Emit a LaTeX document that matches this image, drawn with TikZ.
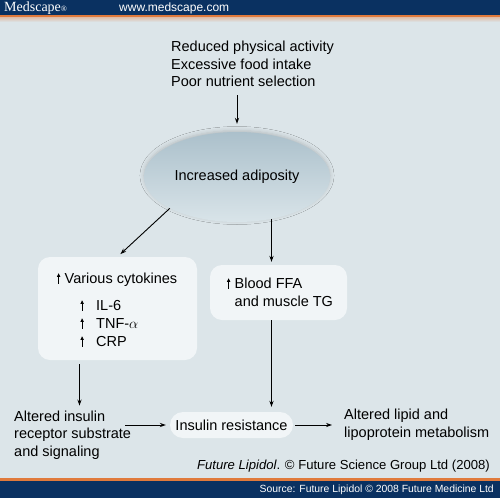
\documentclass[tikz,border=0pt]{standalone}
\usepackage{fontspec}
\setmainfont{Liberation Sans}
\newfontfamily\mscpfont{Liberation Serif}
\usepackage{tikz}
\usetikzlibrary{positioning,calc,arrows.meta,shapes.geometric,shadows.blur}
\usepackage{xcolor}
\definecolor{bannerblue}{HTML}{0A3161}
\definecolor{bannerorange}{HTML}{E07A3C}
\definecolor{bgblue}{HTML}{DCE5E9}
\definecolor{panelfill}{HTML}{F1F5F7}
\definecolor{adiptop}{HTML}{ABC0CB}
\definecolor{adipbot}{HTML}{D9E4E9}
\newcommand{\upar}{\tikz[baseline=0pt,x=1pt,y=1pt]\draw[line width=0.8pt,-{Triangle[length=3.6pt,width=3.2pt]}] (0,0)--(0,10.6);}

\begin{document}
\begin{tikzpicture}[x=1pt,y=-1pt,
    txt/.style={inner sep=0pt,align=left,font=\fontsize{14.5}{17.5}\selectfont},
    panel/.style={rectangle,rounded corners=12pt,fill=panelfill,draw=none},
    pill/.style={rectangle,rounded corners=13pt,fill=panelfill,draw=none,
        minimum width=123pt,minimum height=26pt,inner sep=0pt,
        font=\fontsize{14.5}{17.5}\selectfont},
    adipo/.style={ellipse,minimum width=180pt,minimum height=90pt,
        top color=adiptop,bottom color=adipbot,
        blur shadow={shadow xshift=0pt,shadow yshift=1.5pt,shadow blur radius=4pt,shadow opacity=18},
        font=\fontsize{14.5}{17.5}\selectfont},
    arr/.style={line width=0.9pt,-{Stealth[length=6pt,width=4.2pt]}}
    ]
% Fond et bandeaux
\useasboundingbox (0,0) rectangle (500,498);
\fill[bgblue] (0,0) rectangle (500,498);
\fill[bannerblue] (0,0) rectangle (500,15);
\fill[bannerorange] (0,15) rectangle (500,17.5);
\shade[top color=bannerorange!35!bgblue,bottom color=bgblue] (0,17.5) rectangle (500,22);
\fill[bannerorange] (0,478) rectangle (500,481);
\fill[bannerblue] (0,481) rectangle (500,498);
\node[anchor=west,inner sep=0pt,text=white,font=\mscpfont\fontsize{14}{16}\selectfont] (brand) at (4,8) {Medscape{\fontsize{8}{9}\selectfont ®}};
\node[anchor=west,inner sep=0pt,text=white,font=\fontsize{12}{14}\selectfont] (site) at (119,8) {www.medscape.com};
\node[anchor=east,inner sep=0pt,text=white,font=\fontsize{10.4}{12}\selectfont] (source) at (494,489.5) {Source: Future Lipidol © 2008 Future Medicine Ltd};

\node[txt,anchor=west] (causes) at (171,64) {Reduced physical activity\\Excessive food intake\\Poor nutrient selection};
\node[adipo] (adip) at (237,177) {Increased adiposity};

\node[panel,minimum width=159pt,minimum height=103pt] (cyto) at (117.5,308.5) {};
\node[txt,anchor=west] (cytotext) at ([xshift=19pt,yshift=-1.5pt]cyto.west)
    {\upar\hspace{4.5pt}Various cytokines\\[9.5pt]
     \hspace*{23.5pt}\upar\hspace{12.5pt}IL-6\\[0.5pt]
     \hspace*{23.5pt}\upar\hspace{12.5pt}TNF-$\alpha$\\[0.5pt]
     \hspace*{23.5pt}\upar\hspace{12.5pt}CRP};

\node[panel,minimum width=137pt,minimum height=55pt] (ffa) at (278.5,292.5) {};
\node[txt,anchor=west] (ffatext) at ([xshift=17pt]ffa.west)
    {\upar\hspace{4.5pt}Blood FFA\\[0.5pt]
     \phantom{\upar\hspace{4.5pt}}and muscle TG};

\node[txt,anchor=west] (sig) at (14,435) {Altered insulin\\receptor substrate\\and signaling};
\node[pill] (ir) at (231.5,425) {Insulin resistance};
\node[txt,anchor=west] (lipid) at (344,424.5) {Altered lipid and\\lipoprotein metabolism};

\coordinate (ffax) at (271.5,0);
\coordinate (cytox) at (79.5,0);

\draw[arr,shorten <=8pt,shorten >=8pt] (causes.south -| adip.north) -- (adip.north);
\draw[arr,shorten >=4pt] (adip.205) -- (cyto.north);
\draw[arr,shorten <=-3pt,shorten >=3pt] (ffax |- adip.south) -- (ffax |- ffa.north);
\draw[arr,shorten <=4pt,shorten >=5pt] (cytox |- cyto.south) -- (cytox |- sig.north);
\draw[arr,shorten >=5pt] (ffax |- ffa.south) -- (ffax |- ir.north);
\draw[arr,shorten >=4pt] ([xshift=-6pt]sig.east |- ir.west) -- (ir.west);
\draw[arr,shorten <=2pt,shorten >=12pt] (ir.east) -- (ir.east -| lipid.west);

\node[anchor=east,inner sep=0pt,font=\fontsize{13.1}{15}\selectfont] (credit) at (490,466)
    {\textit{Future Lipidol}. © Future Science Group Ltd (2008)};
\end{tikzpicture}
\end{document}
